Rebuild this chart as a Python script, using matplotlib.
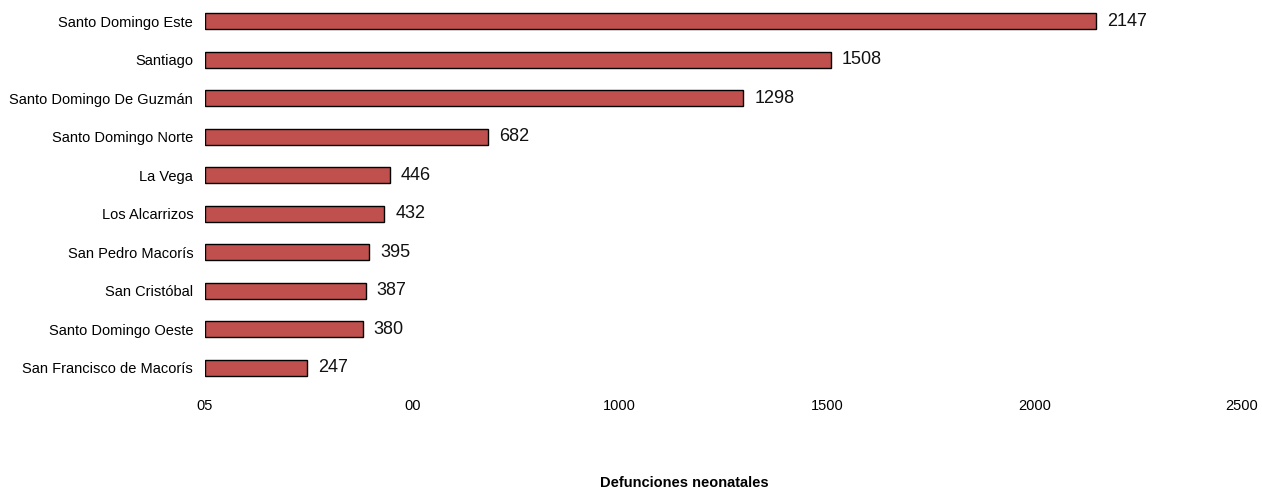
import matplotlib
matplotlib.use("Agg")
import matplotlib.pyplot as plt
import numpy as np

plt.rcParams['font.family'] = ['Liberation Sans', 'DejaVu Sans']

municipios = ["Santo Domingo Este", "Santiago", "Santo Domingo De Guzmán",
              "Santo Domingo Norte", "La Vega", "Los Alcarrizos",
              "San Pedro Macorís", "San Cristóbal", "Santo Domingo Oeste",
              "San Francisco de Macorís"]
defunciones = [2147, 1508, 1298, 682, 446, 432, 395, 387, 380, 247]
xticks = [0, 500, 1000, 1500, 2000, 2500]
xticklabels = ["05", "00", "1000", "1500", "2000", "2500"]

fig = plt.figure(figsize=(12.62, 4.91), dpi=100)
ax = fig.add_axes([205 / 1262, 1 - 387 / 491, (1242 - 205) / 1262, 385 / 491])

pos = np.arange(len(municipios))[::-1]
ax.barh(pos, defunciones, height=0.42, color="#C0504D", edgecolor="black", linewidth=1)

for p, v in zip(pos, defunciones):
    ax.annotate(str(v), (v, p), xytext=(8, 0), textcoords="offset points",
                va="center", ha="left", fontsize=13, color="#111111")

ax.set_yticks(pos)
ax.set_yticklabels(municipios, fontsize=10.5)
ax.set_xticks(xticks)
ax.set_xticklabels(xticklabels, fontsize=10.5)
ax.set_xlim(0, 2500)
ax.set_ylim(-0.5, 9.5)
ax.tick_params(axis="both", length=0)
ax.tick_params(axis="x", pad=9)
ax.tick_params(axis="y", pad=8.5)
for s in ax.spines.values():
    s.set_visible(False)

fig.text(684 / 1262, 8 / 491, "Defunciones neonatales", ha="center", va="center",
         fontsize=10.5, fontweight="bold")

fig.savefig("out.png", dpi=100)
